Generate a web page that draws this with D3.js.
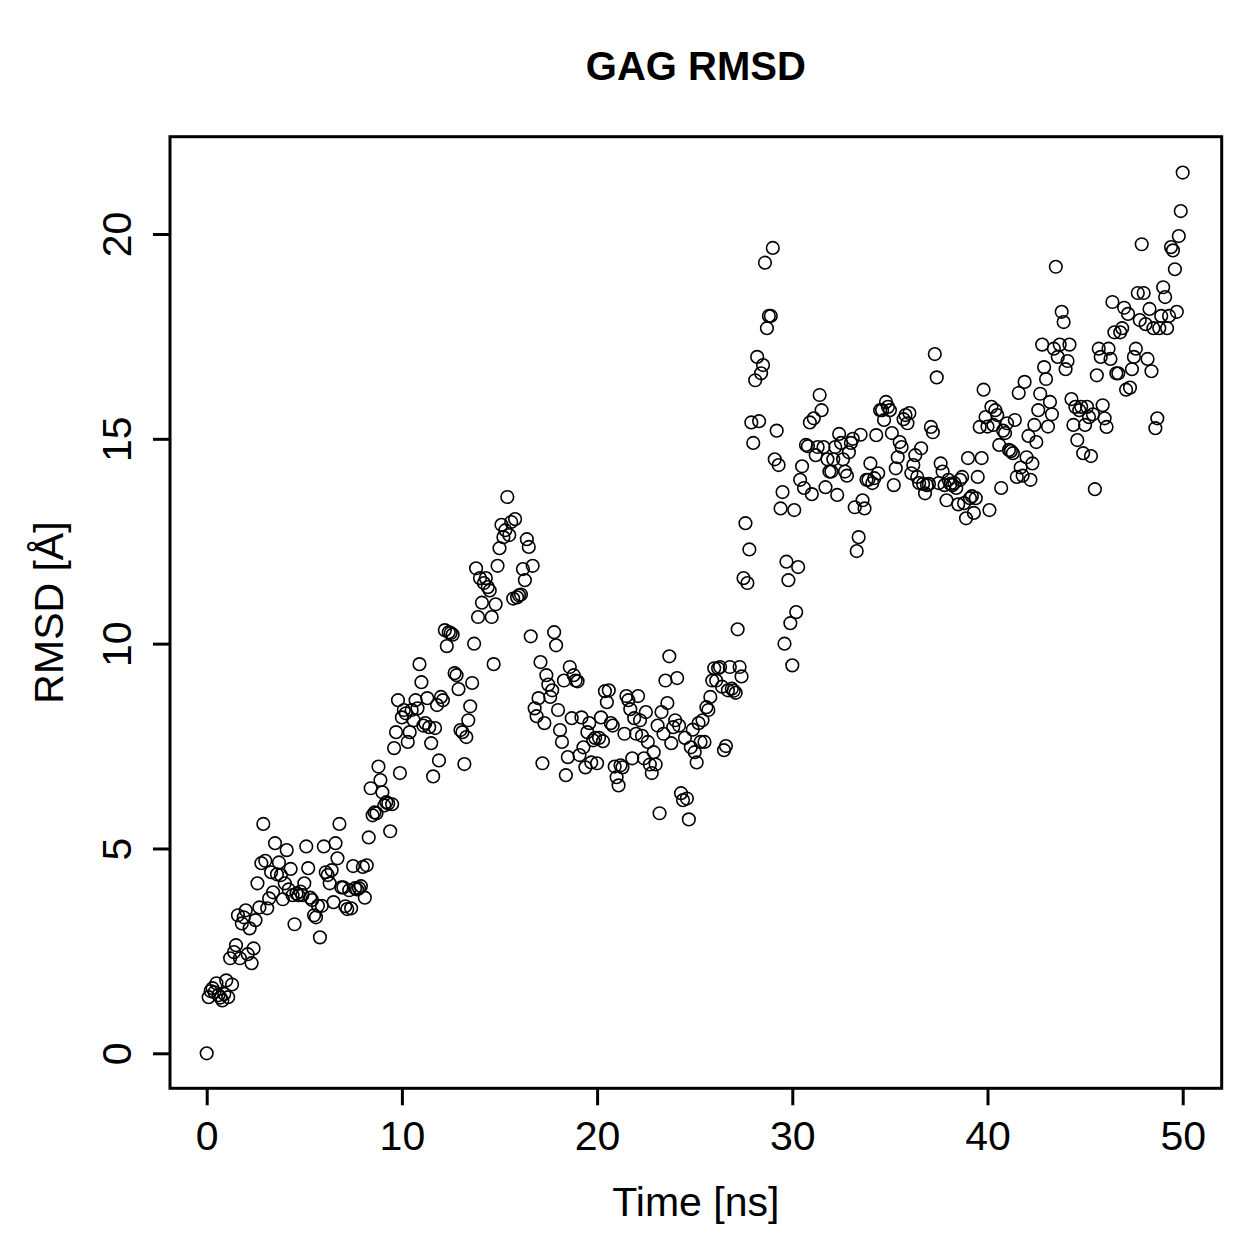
<!DOCTYPE html>
<html>
<head>
<meta charset="utf-8">
<script src="https://cdn.jsdelivr.net/npm/d3@7"></script>
<style>
  html, body { margin: 0; padding: 0; background: #fff; }
  svg { display: block; }
  text { font-family: "Liberation Sans", Arial, Helvetica, sans-serif; fill: #000; }
</style>
</head>
<body>
<svg id="chart" width="1259" height="1259"></svg>
<script>
// ---- Data (RMSD in Å, sampled every 0.1 ns from 0 to 50 ns) ----
const chartTitle = "GAG RMSD";
const xLabel = "Time [ns]";
const yLabel = "RMSD [Å]";
const timeStepNs = 0.1;
const xTicks = [0, 10, 20, 30, 40, 50];
const yTicks = [0, 5, 10, 15, 20];

const rmsd = [
  0.0, 1.37, 1.52, 1.59, 1.49, 1.71, 1.42, 1.36, 1.29, 1.45,
  1.78, 1.37, 2.32, 1.68, 2.47, 2.64, 3.37, 2.32, 3.17, 3.32,
  3.49, 2.42, 3.05, 2.2, 2.56, 3.25, 4.15, 3.56, 4.64, 5.6,
  4.7, 3.54, 3.78, 4.42, 3.93, 5.13, 4.37, 4.66, 4.35, 3.76,
  4.15, 4.96, 4.0, 4.5, 3.86, 3.15, 3.9, 3.86, 3.95, 3.86,
  4.15, 5.05, 4.52, 3.8, 3.74, 3.37, 3.32, 3.6, 2.83, 3.6,
  5.05, 4.42, 4.35, 4.15, 4.47, 3.69, 5.13, 4.76, 5.6, 4.05,
  4.05, 3.59, 3.52, 3.98, 3.54, 4.57, 4.03, 4.0, 4.03, 4.08,
  4.55, 3.8, 4.59, 5.27, 6.47, 5.81, 5.88, 5.86, 7.0, 6.67,
  6.37, 6.05, 6.13, 6.1, 5.42, 6.08, 7.45, 7.84, 8.62, 6.84,
  8.2, 8.38, 8.3, 7.6, 7.84, 8.38, 8.13, 8.62, 8.42, 9.5,
  9.06, 8.0, 8.06, 8.67, 7.96, 7.57, 6.76, 7.94, 8.5, 7.15,
  8.7, 8.62, 10.33, 9.94, 10.28, 10.26, 10.22, 9.28, 9.23, 8.89,
  7.89, 7.84, 7.06, 7.72, 8.13, 8.47, 9.04, 10.0, 11.84, 10.65,
  11.6, 11.0, 11.48, 11.6, 11.38, 11.3, 10.65, 9.5, 10.96, 11.9,
  12.33, 12.9, 12.6, 12.77, 13.58, 12.65, 12.97, 11.1, 13.04, 11.13,
  11.18, 11.2, 11.82, 11.55, 12.55, 12.36, 10.18, 11.9, 8.42, 8.23,
  8.67, 9.55, 7.08, 8.06, 9.23, 9.0, 8.7, 8.86, 10.28, 9.96,
  8.38, 7.89, 7.6, 9.1, 6.79, 7.23, 9.43, 8.18, 9.23, 9.1,
  9.08, 7.28, 8.2, 7.47, 6.98, 7.84, 8.06, 7.1, 7.64, 7.7,
  7.08, 7.7, 8.2, 7.62, 8.84, 8.57, 8.86, 8.06, 8.0, 7.0,
  6.74, 6.54, 7.03, 6.98, 7.8, 8.72, 8.62, 8.4, 7.2, 8.18,
  7.8, 8.72, 8.13, 7.75, 7.2, 8.33, 7.6, 7.05, 6.84, 7.35,
  7.05, 8.0, 5.86, 8.33, 7.8, 9.1, 8.55, 9.69, 7.57, 7.96,
  8.13, 9.16, 8.0, 6.35, 6.18, 7.7, 6.22, 5.71, 7.47, 7.9,
  7.35, 7.1, 8.06, 7.6, 8.13, 7.6, 8.45, 8.38, 8.7, 9.1,
  9.4, 9.1, 9.4, 9.43, 8.95, 7.4, 7.5, 8.86, 9.43, 8.9,
  8.85, 8.8, 10.35, 9.43, 9.2, 11.6, 12.94, 11.48, 12.3, 15.4,
  14.9, 16.43, 17.0, 15.43, 16.6, 16.8, 19.3, 17.7, 18.0, 18.0,
  19.66, 14.5, 15.2, 14.36, 13.3, 13.7, 10.0, 12.0, 11.55, 10.5,
  9.47, 13.26, 10.77, 11.87, 14.0, 14.33, 13.8, 14.85, 14.82, 15.4,
  13.65, 15.5, 14.6, 14.8, 16.07, 15.7, 14.8, 13.82, 14.5, 14.2,
  14.2, 14.5, 14.8, 13.63, 15.12, 14.9, 14.5, 14.2, 14.1, 14.67,
  14.9, 15.0, 13.33, 12.26, 12.6, 15.1, 13.5, 13.3, 14.0, 14.0,
  14.4, 13.92, 14.04, 15.09, 14.16, 15.7, 15.7, 15.46, 15.9, 15.78,
  15.7, 15.14, 13.87, 14.28, 14.55, 14.92, 14.8, 15.48, 15.58, 15.38,
  15.63, 14.16, 14.36, 14.6, 14.07, 13.92, 14.77, 13.9, 13.67, 13.87,
  13.9, 15.29, 15.16, 17.07, 16.5, 13.92, 14.4, 14.2, 13.87, 13.5,
  14.0, 13.9, 13.87, 13.92, 13.8, 13.4, 14.0, 14.07, 13.43, 13.06,
  14.53, 13.55, 13.6, 13.19, 13.55, 14.07, 15.29, 14.53, 16.2, 15.53,
  15.3, 13.26, 15.78, 15.34, 15.7, 15.58, 14.85, 13.8, 15.2, 15.14,
  15.38, 14.73, 14.7, 14.65, 15.46, 14.07, 16.12, 14.3, 14.1, 16.39,
  14.55, 15.07, 14.0, 14.4, 15.34, 14.92, 15.7, 16.1, 17.3, 16.75,
  16.46, 15.3, 15.9, 15.6, 17.2, 19.2, 17.0, 17.3, 18.1, 17.85,
  16.7, 16.9, 17.3, 15.97, 15.34, 15.78, 14.97, 15.7, 15.78, 14.65,
  15.34, 15.78, 15.53, 14.58, 15.6, 13.77, 16.55, 17.2, 17.0, 15.82,
  15.5, 15.29, 17.2, 16.95, 18.34, 17.6, 16.6, 16.6, 17.6, 17.7,
  18.2, 16.2, 18.05, 16.25, 16.7, 17.0, 17.2, 18.56, 17.9, 19.75,
  18.56, 17.8, 16.95, 18.17, 16.65, 17.7, 15.26, 15.5, 17.7, 18.0,
  18.7, 18.46, 17.7, 18.0, 19.68, 19.6, 19.14, 18.1, 19.95, 20.56,
  21.5
];
const time = rmsd.map((d, i) => +(i * timeStepNs).toFixed(1));

// ---- Layout ----
const box = { left: 170, right: 1221.7, top: 136.7, bottom: 1088.3 };
const svg = d3.select("#chart");

const x = d3.scaleLinear().domain([0, 50]).range([206.7, 1182.7]);
const y = d3.scaleLinear().domain([0, 20]).range([1053.3, 234]);

// Points
svg.append("g")
  .selectAll("circle")
  .data(rmsd)
  .join("circle")
  .attr("cx", (d, i) => x(time[i]))
  .attr("cy", d => y(d))
  .attr("r", 6.3)
  .attr("fill", "none")
  .attr("stroke", "#000")
  .attr("stroke-width", 1.6);

// Plot box
svg.append("rect")
  .attr("x", box.left).attr("y", box.top)
  .attr("width", box.right - box.left).attr("height", box.bottom - box.top)
  .attr("fill", "none").attr("stroke", "#000").attr("stroke-width", 3);

// X axis
const gx = svg.append("g")
  .attr("transform", `translate(0,${box.bottom})`)
  .call(d3.axisBottom(x).tickValues(xTicks).tickSize(17).tickFormat(d3.format("d")));
gx.select(".domain").remove();
gx.selectAll(".tick line").attr("stroke", "#000").attr("stroke-width", 3);
gx.selectAll(".tick text")
  .attr("y", 1150 - box.bottom).attr("dy", null)
  .attr("text-anchor", "middle")
  .style("font-size", "41px")
  .style("font-family", '"Liberation Sans", Arial, Helvetica, sans-serif')
  .attr("fill", "#000");

// Y axis
const gy = svg.append("g")
  .attr("transform", `translate(${box.left},0)`)
  .call(d3.axisLeft(y).tickValues(yTicks).tickSize(17).tickFormat(d3.format("d")));
gy.select(".domain").remove();
gy.selectAll(".tick line").attr("stroke", "#000").attr("stroke-width", 3);
gy.selectAll(".tick text")
  .attr("x", 0).attr("dy", null)
  .attr("text-anchor", "middle")
  .attr("transform", `translate(${131 - box.left},0) rotate(-90)`)
  .style("font-size", "41px")
  .style("font-family", '"Liberation Sans", Arial, Helvetica, sans-serif')
  .attr("fill", "#000");

// Title
svg.append("text")
  .attr("x", (box.left + box.right) / 2).attr("y", 80)
  .attr("text-anchor", "middle")
  .style("font-size", "40px").style("font-weight", "bold")
  .text(chartTitle);

// X label
svg.append("text")
  .attr("x", (box.left + box.right) / 2).attr("y", 1216)
  .attr("text-anchor", "middle")
  .style("font-size", "41px")
  .text(xLabel);

// Y label
svg.append("text")
  .attr("transform", `translate(63,${(box.top + box.bottom) / 2}) rotate(-90)`)
  .attr("text-anchor", "middle")
  .style("font-size", "41px")
  .text(yLabel);
</script>
</body>
</html>
